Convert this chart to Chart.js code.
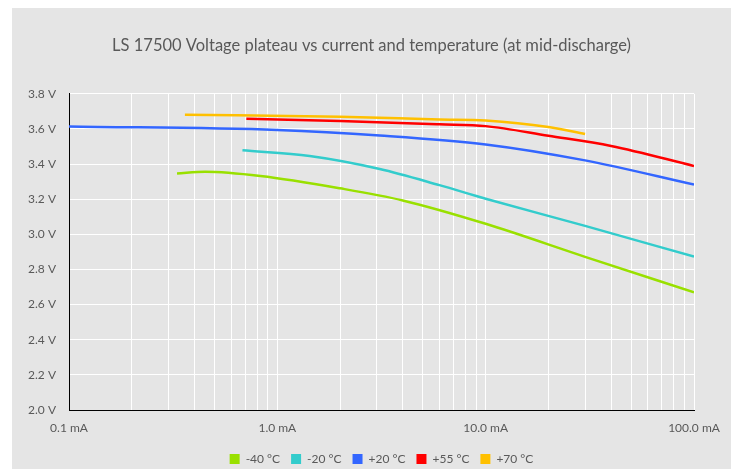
<!DOCTYPE html>
<html>
<head>
<meta charset="utf-8">
<script src="https://cdn.jsdelivr.net/npm/chart.js@4"></script>
<style>
  html, body { margin: 0; padding: 0; background: #fff; overflow: hidden; }
  #chart { position: absolute; left: 12px; top: 8px; background: #e5e5e5; }
</style>
</head>
<body>
<canvas id="chart" width="719" height="467"></canvas>
<script>
// current (mA) / voltage (V) pairs
var currentM40 = [0.33, 0.45, 0.83, 2.0, 4, 10, 30, 100];
var voltM40    = [3.347, 3.356, 3.332, 3.262, 3.193, 3.060, 2.872, 2.670];

var currentM20 = [0.68, 1.43, 3.1, 6, 10, 30, 100];
var voltM20    = [3.478, 3.446, 3.372, 3.280, 3.203, 3.048, 2.873];

var currentP20 = [0.1, 1.0, 3.1, 10, 30, 100];
var voltP20    = [3.614, 3.594, 3.563, 3.512, 3.421, 3.283];

var currentP55 = [0.71, 2.0, 6, 10, 20, 40, 100];
var voltP55    = [3.658, 3.645, 3.626, 3.616, 3.561, 3.503, 3.389];

var currentP70 = [0.36, 2.0, 6, 10, 20, 30];
var voltP70    = [3.681, 3.669, 3.654, 3.648, 3.611, 3.571];

var seriesNames = ['-40 °C', '-20 °C', '+20 °C', '+55 °C', '+70 °C'];
var seriesColors = ['#99e000', '#33cccc', '#3366ff', '#ff0000', '#ffc000'];

var xDecades = [0.1, 1, 10, 100];
var xMinor = [0.2, 0.3, 0.4, 0.5, 0.6, 0.7, 0.8, 0.9,
              2, 3, 4, 5, 6, 7, 8, 9,
              20, 30, 40, 50, 60, 70, 80, 90];

function pairs(xs, ys) {
  return xs.map(function(x, i) { return { x: x, y: ys[i] }; });
}

var allSeries = [
  pairs(currentM40, voltM40),
  pairs(currentM20, voltM20),
  pairs(currentP20, voltP20),
  pairs(currentP55, voltP55),
  pairs(currentP70, voltP70)
];

var textColor = '#595959';
var fontFamily = 'Lato, "Open Sans", sans-serif';

var ctx = document.getElementById('chart').getContext('2d');
new Chart(ctx, {
  type: 'line',
  data: {
    datasets: allSeries.map(function(pts, i) {
      return {
        label: seriesNames[i],
        data: pts,
        borderColor: seriesColors[i],
        backgroundColor: seriesColors[i],
        borderWidth: 2.5,
        pointRadius: 0,
        cubicInterpolationMode: 'monotone',
        fill: false
      };
    })
  },
  options: {
    responsive: false,
    animation: false,
    layout: { padding: 0 },
    scales: {
      x: {
        type: 'logarithmic',
        min: 0.1,
        max: 100,
        afterBuildTicks: function(scale) {
          scale.ticks = xDecades.concat(xMinor).sort(function(a, b) { return a - b; })
            .map(function(v) { return { value: v }; });
        },
        afterFit: function(scale) { scale.height = 32; },
        grid: { color: '#ffffff', lineWidth: 1, drawTicks: false },
        border: { color: '#000000', width: 1 },
        ticks: {
          autoSkip: false,
          maxRotation: 0,
          padding: 11,
          color: textColor,
          font: { family: fontFamily, size: 12 },
          callback: function(value) {
            return xDecades.indexOf(value) >= 0 ? value.toFixed(1) + ' mA' : '';
          }
        }
      },
      y: {
        min: 2.0,
        max: 3.8,
        afterFit: function(scale) { scale.width = 57; },
        grid: { color: '#ffffff', lineWidth: 1, drawTicks: false },
        border: { color: '#000000', width: 1 },
        ticks: {
          stepSize: 0.2,
          padding: 13,
          color: textColor,
          font: { family: fontFamily, size: 12 },
          callback: function(value) { return value.toFixed(1) + ' V'; }
        }
      },
      yRight: {
        position: 'right',
        display: true,
        afterFit: function(scale) { scale.width = 37; },
        grid: { display: false },
        border: { display: false },
        ticks: { display: false }
      }
    },
    plugins: {
      title: {
        display: true,
        text: 'LS 17500 Voltage plateau vs current and temperature (at mid-discharge)',
        color: textColor,
        font: { family: fontFamily, size: 16.5, weight: 'normal' },
        padding: { top: 28, bottom: 38 }
      },
      legend: {
        position: 'bottom',
        fullSize: false,
        labels: {
          boxWidth: 10,
          boxHeight: 10,
          padding: 11,
          color: textColor,
          font: { family: fontFamily, size: 12 },
          generateLabels: function(chart) {
            return Chart.defaults.plugins.legend.labels.generateLabels(chart).map(function(l) {
              l.lineWidth = 0;
              return l;
            });
          }
        }
      },
      tooltip: { enabled: false }
    }
  }
});
</script>
</body>
</html>
